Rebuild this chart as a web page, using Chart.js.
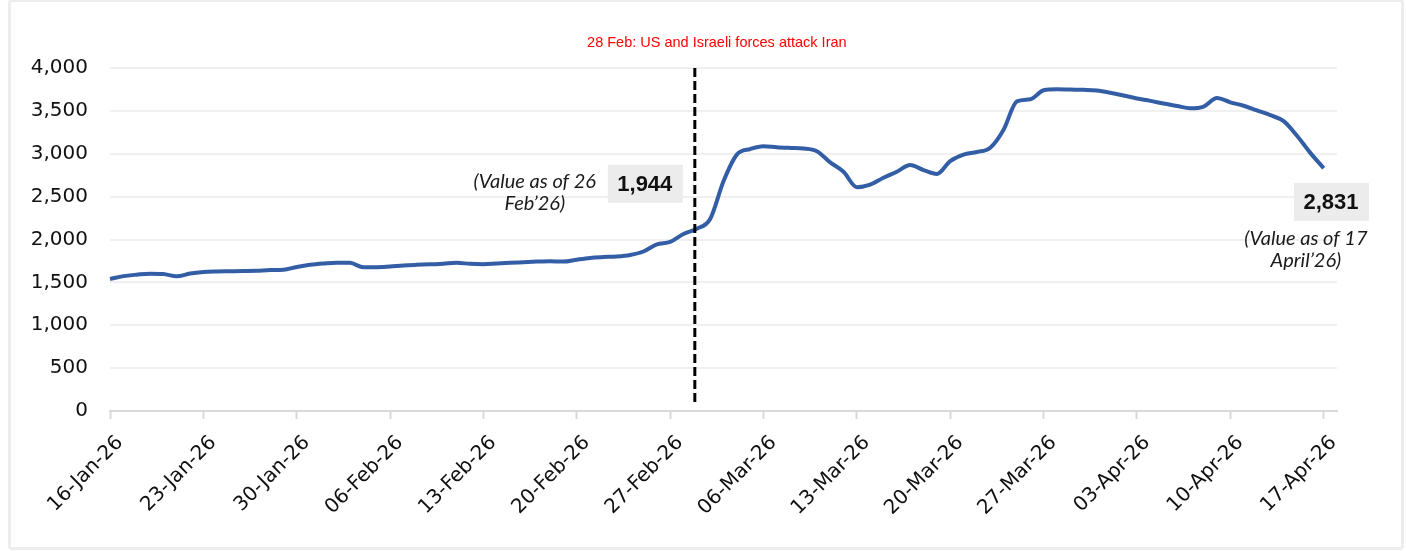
<!DOCTYPE html>
<html>
<head>
<meta charset="utf-8">
<script src="https://cdn.jsdelivr.net/npm/chart.js@4.4.1/dist/chart.umd.min.js"></script>
<style>
  html, body { margin: 0; padding: 0; background: #fff; }
  #wrap { position: relative; width: 1406px; height: 551px; overflow: hidden; }
  #frame { position: absolute; left: 8px; top: -1px; width: 1390px; height: 545px;
           border: 3px solid #ededed; border-radius: 4px; pointer-events: none; }
  canvas { position: absolute; left: 0; top: 0; }
</style>
</head>
<body>
<div id="wrap">
  <canvas id="priceChart" width="1406" height="551"></canvas>
  <div id="frame"></div>
</div>
<script>
// daily dates, 16-Jan-26 .. 18-Apr-26 (axis runs one day past the last value)
const dates = [
  '16-Jan-26','17-Jan-26','18-Jan-26','19-Jan-26','20-Jan-26','21-Jan-26','22-Jan-26',
  '23-Jan-26','24-Jan-26','25-Jan-26','26-Jan-26','27-Jan-26','28-Jan-26','29-Jan-26',
  '30-Jan-26','31-Jan-26','01-Feb-26','02-Feb-26','03-Feb-26','04-Feb-26','05-Feb-26',
  '06-Feb-26','07-Feb-26','08-Feb-26','09-Feb-26','10-Feb-26','11-Feb-26','12-Feb-26',
  '13-Feb-26','14-Feb-26','15-Feb-26','16-Feb-26','17-Feb-26','18-Feb-26','19-Feb-26',
  '20-Feb-26','21-Feb-26','22-Feb-26','23-Feb-26','24-Feb-26','25-Feb-26','26-Feb-26',
  '27-Feb-26','28-Feb-26','01-Mar-26','02-Mar-26','03-Mar-26','04-Mar-26','05-Mar-26',
  '06-Mar-26','07-Mar-26','08-Mar-26','09-Mar-26','10-Mar-26','11-Mar-26','12-Mar-26',
  '13-Mar-26','14-Mar-26','15-Mar-26','16-Mar-26','17-Mar-26','18-Mar-26','19-Mar-26',
  '20-Mar-26','21-Mar-26','22-Mar-26','23-Mar-26','24-Mar-26','25-Mar-26','26-Mar-26',
  '27-Mar-26','28-Mar-26','29-Mar-26','30-Mar-26','31-Mar-26','01-Apr-26','02-Apr-26',
  '03-Apr-26','04-Apr-26','05-Apr-26','06-Apr-26','07-Apr-26','08-Apr-26','09-Apr-26',
  '10-Apr-26','11-Apr-26','12-Apr-26','13-Apr-26','14-Apr-26','15-Apr-26','16-Apr-26',
  '17-Apr-26','18-Apr-26'
];

const prices = [
  1540, 1573, 1590, 1602, 1597, 1570, 1603,
  1622, 1628, 1630, 1632, 1635, 1645, 1648,
  1680, 1705, 1720, 1730, 1728, 1675, 1677,
  1685, 1698, 1705, 1710, 1718, 1728, 1716,
  1712, 1720, 1728, 1735, 1742, 1746, 1742,
  1765, 1785, 1795, 1802, 1820, 1860, 1944,
  1972, 2065, 2125, 2240, 2680, 2990, 3055,
  3088, 3075, 3068, 3062, 3030, 2900, 2790,
  2610, 2640, 2720, 2790, 2868, 2810, 2765,
  2915, 2990, 3020, 3070, 3280, 3610, 3635,
  3740, 3752, 3748, 3745, 3737, 3712, 3680,
  3645, 3617, 3585, 3557, 3530, 3550, 3650,
  3600, 3560, 3505, 3450, 3380, 3210, 3010,
  2831, null
];

const yTicks = [0, 500, 1000, 1500, 2000, 2500, 3000, 3500, 4000];
const tickEvery = 7;   // weekly labels

const eventText = '28 Feb: US and Israeli forces attack Iran';
const eventAt = 43.85;   // between 28-Feb and 01-Mar
const startValue = '1,944';
const startNote = ['(Value as of 26', 'Feb\u201926)'];
const endValue = '2,831';
const endNote = ['(Value as of 17', 'April\u201926)'];

const notes = {
  id: 'notes',
  afterDatasetsDraw(chart) {
    const { ctx, chartArea } = chart;
    const x = chart.scales.x, y = chart.scales.y;
    ctx.save();

    // event line
    const ex = x.getPixelForValue(eventAt);
    ctx.strokeStyle = '#000';
    ctx.lineWidth = 3;
    ctx.setLineDash([9, 4]);
    ctx.beginPath();
    ctx.moveTo(ex, chartArea.top);
    ctx.lineTo(ex, chartArea.bottom - 6);
    ctx.stroke();
    ctx.setLineDash([]);

    ctx.fillStyle = '#ff0000';
    ctx.font = '14.5px "Liberation Sans"';
    ctx.textAlign = 'center';
    ctx.textBaseline = 'middle';
    ctx.fillText(eventText, x.getPixelForValue(45.5), 43);

    // value boxes
    const box = (cx, cy, text) => {
      ctx.fillStyle = '#ececec';
      ctx.fillRect(cx - 37, cy - 19, 75, 38);
      ctx.fillStyle = '#111';
      ctx.font = 'bold 22px "Liberation Sans"';
      ctx.fillText(text, cx, cy + 1);
    };
    const note = (cx, cy, lines) => {
      ctx.fillStyle = '#1a1a1a';
      ctx.font = 'italic 20px Lato';
      lines.forEach((t, i) => ctx.fillText(t, cx, cy + i * 22));
    };

    box(x.getPixelForValue(40.1), y.getPixelForValue(2650), startValue);
    note(x.getPixelForValue(31.85), y.getPixelForValue(2672), startNote);
    box(x.getPixelForValue(91.55), y.getPixelForValue(2439), endValue);
    note(x.getPixelForValue(89.67), y.getPixelForValue(2007), endNote);

    ctx.restore();
  }
};

new Chart(document.getElementById('priceChart').getContext('2d'), {
  type: 'line',
  data: {
    labels: dates,
    datasets: [{
      data: prices,
      borderColor: '#335ea5',
      borderWidth: 4,
      pointRadius: 0,
      cubicInterpolationMode: 'monotone',
      fill: false
    }]
  },
  options: {
    responsive: false,
    animation: false,
    layout: { padding: { left: 10, right: 69, top: 68, bottom: 0 } },
    plugins: { legend: { display: false }, tooltip: { enabled: false } },
    scales: {
      x: {
        offset: false,
        afterBuildTicks: (axis) => {
          axis.ticks = axis.ticks.filter(t => t.value % tickEvery === 0);
        },
        afterFit: (scale) => { scale.height = 140; },
        grid: { display: true, drawOnChartArea: false, drawTicks: true, tickLength: 8,
                tickColor: '#d9d9d9', tickWidth: 2 },
        border: { display: true, color: '#d9d9d9', width: 2 },
        ticks: {
          autoSkip: false,
          minRotation: 45,
          maxRotation: 45,
          padding: 12,
          labelOffset: 10,
          color: '#111',
          font: { family: '"DejaVu Sans"', size: 20 }
        }
      },
      y: {
        min: 0,
        max: 4000,
        afterBuildTicks: (axis) => { axis.ticks = yTicks.map(v => ({ value: v })); },
        afterFit: (scale) => { scale.width = 100; },
        grid: { color: '#f0f0f0', lineWidth: 2, drawTicks: false },
        border: { display: false },
        ticks: {
          padding: 22,
          color: '#111',
          font: { family: '"DejaVu Sans"', size: 20 },
          callback: (v) => v.toLocaleString('en-US')
        }
      }
    }
  },
  plugins: [notes]
});
</script>
</body>
</html>
